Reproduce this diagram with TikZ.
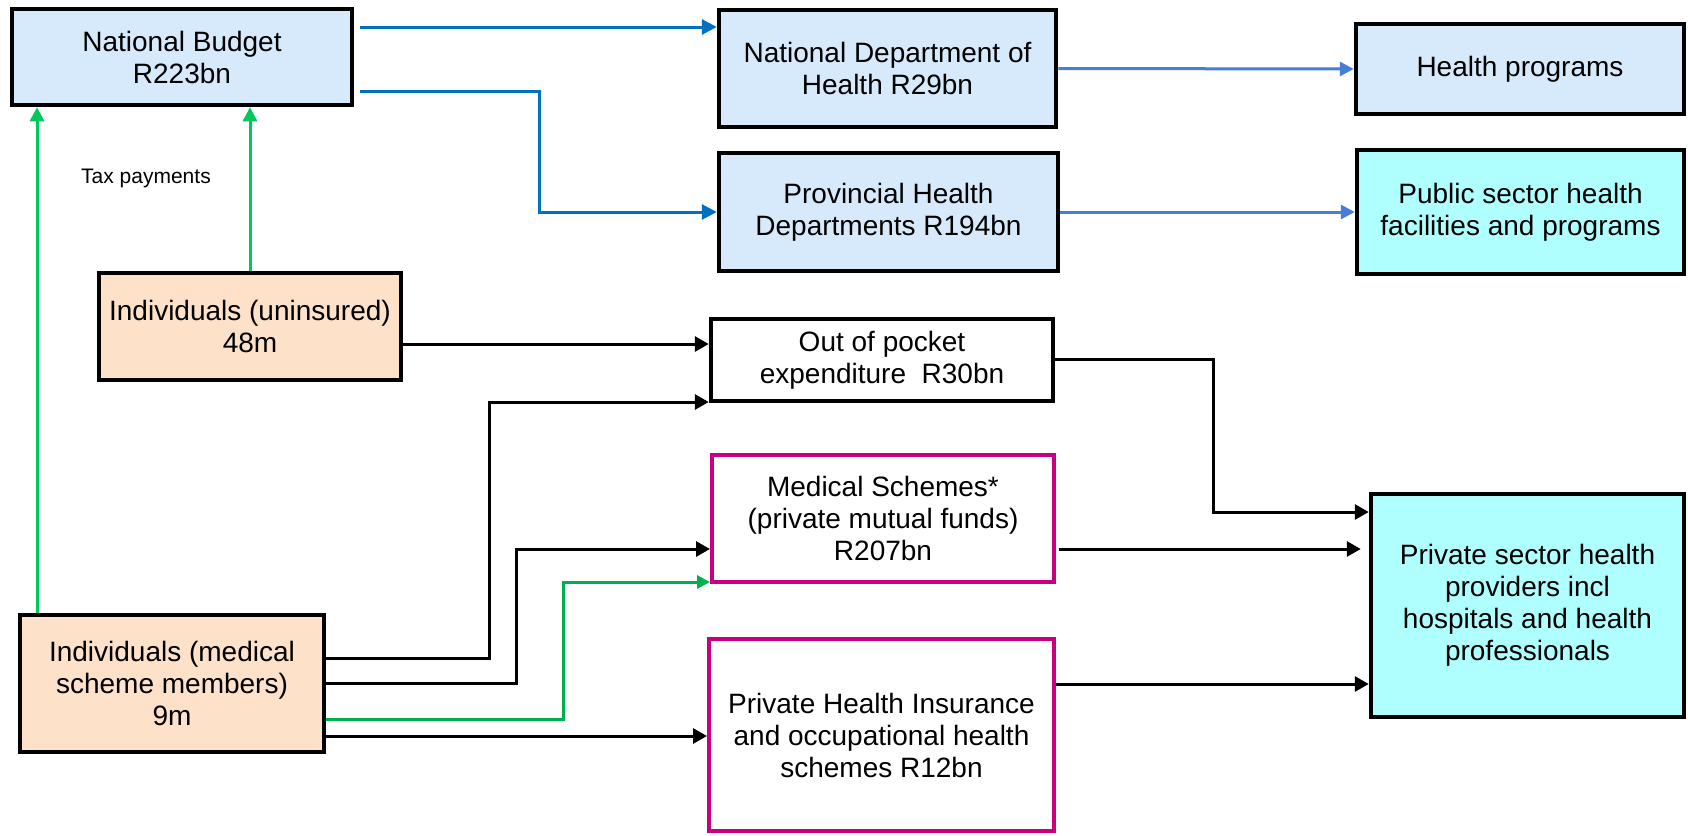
\documentclass[tikz,border=0pt]{standalone}
\usepackage{fontspec}
\setmainfont{Liberation Sans}
\usetikzlibrary{arrows.meta}
\definecolor{lblue}{RGB}{214,234,251}
\definecolor{lcyan}{RGB}{176,255,255}
\definecolor{peach}{RGB}{253,225,201}
\definecolor{magent}{RGB}{200,0,128}
\definecolor{tgreen}{RGB}{0,200,90}
\definecolor{rgreen}{RGB}{0,176,80}
\definecolor{dblue}{RGB}{0,112,192}
\definecolor{mblue}{RGB}{70,125,215}
\begin{document}
\begin{tikzpicture}[x=1pt,y=-1pt,
  box/.style={draw=black,line width=4.5pt,rectangle,align=center,inner sep=0pt,
    font=\fontsize{28}{32}\selectfont},
  pbox/.style={box,draw=magent,line width=4pt},
  blk/.style={draw=black,line width=3pt,-{Triangle[length=14pt,width=15pt]}},
  bla/.style={draw=dblue,line width=3pt,-{Triangle[length=15pt,width=15pt]}},
  blb/.style={draw=mblue,line width=3pt,-{Triangle[length=14pt,width=14pt]}},
  grn/.style={draw=tgreen,line width=3pt,-{Triangle[length=14pt,width=14pt]}},
  grr/.style={draw=rgreen,line width=3pt,-{Triangle[length=13pt,width=13pt]}}]
\useasboundingbox (0,0) rectangle (1688,835);
\fill[white] (0,0) rectangle (1688,835);
% boxes
\node[box,fill=lblue,minimum width=340pt,minimum height=96pt] (NB) at (182,57) {National Budget\\R223bn};
\node[box,fill=lblue,minimum width=337pt,minimum height=117pt] (NDH) at (887.5,68.5) {National Department of\\Health R29bn};
\node[box,fill=lblue,minimum width=328pt,minimum height=90pt] (HP) at (1520,69) {Health programs};
\node[box,fill=lblue,minimum width=339pt,minimum height=118pt] (PHD) at (888.5,212) {Provincial Health\\Departments R194bn};
\node[box,fill=lcyan,minimum width=327pt,minimum height=124pt] (PS) at (1520.5,212) {Public sector health\\facilities and programs};
\node[box,fill=peach,minimum width=302pt,minimum height=107pt] (IU) at (250,326.5) {Individuals (uninsured)\\48m};
\node[box,fill=white,minimum width=342pt,minimum height=82pt] (OOP) at (882,360) {Out of pocket\\expenditure\ \ R30bn};
\node[pbox,fill=white,minimum width=342pt,minimum height=127pt] (MS) at (883,518.5) {Medical Schemes*\\(private mutual funds)\\R207bn};
\node[pbox,fill=white,minimum width=345pt,minimum height=192pt] (PHI) at (881.5,735) {Private Health Insurance\\and occupational health\\schemes R12bn};
\node[box,fill=lcyan,minimum width=313pt,minimum height=223pt] (PSP) at (1527.5,605.5) {Private sector health\\providers incl\\hospitals and health\\professionals};
\node[box,fill=peach,minimum width=304pt,minimum height=137pt] (IMS) at (172,683.5) {Individuals (medical\\scheme members)\\9m};
\node[font=\fontsize{21}{24}\selectfont,anchor=base,inner sep=0pt] (TAX) at (146,183) {Tax payments};
% blue connectors
\draw[bla,shorten <=6pt] (NB.east |- 0,27) -- (NDH.west |- 0,27);
\draw[bla,shorten <=6pt] (NB.east |- 0,91) -- (539,91) |- (PHD.west);
\draw[blb] (NDH.east) -- (HP.west);
\draw[blb] (PHD.east) -- (PS.west);
% green tax connectors
\draw[grn] (IU.north) -- (IU.north |- NB.south);
\draw[grn] (IMS.north -| 37,0) -- (NB.south -| 37,0);
% black connectors
\draw[blk] (IU.east |- 0,344) -- (OOP.west |- 0,344);
\draw[blk] (IMS.east |- 0,658) -| (489,402) -- (OOP.west |- 0,402);
\draw[blk] (IMS.east |- 0,683) -| (516,549) -- (MS.west |- 0,549);
\draw[grr] (IMS.east |- 0,719) -| (563,582) -- (MS.west |- 0,582);
\draw[blk] (IMS.east |- 0,736) -- (PHI.west |- 0,736);
\draw[blk] (OOP.east |- 0,359) -| (1213,512) -- (PSP.west |- 0,512);
\draw[blk,shorten <=3pt,shorten >=8pt] (MS.east |- 0,549) -- (PSP.west |- 0,549);
\draw[blk] (PHI.east |- 0,684) -- (PSP.west |- 0,684);
\end{tikzpicture}
\end{document}
